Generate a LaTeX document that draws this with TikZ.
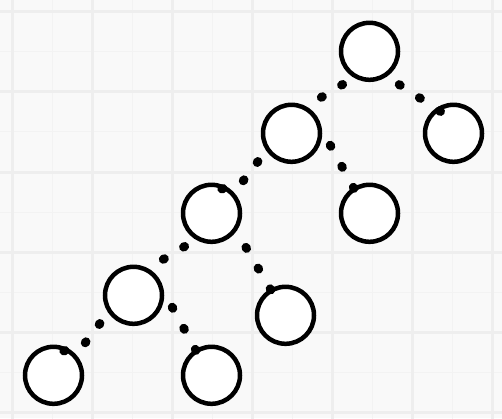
\documentclass[tikz,border=0pt]{standalone}
\usepackage{tikz}
\usetikzlibrary{calc}
\usetikzlibrary{positioning}
\definecolor{paper}{RGB}{249,249,249}
\definecolor{gridmaj}{RGB}{238,238,238}
\definecolor{gridmin}{RGB}{243,243,243}
\tikzstyle{circ} = [circle,draw=black,fill=white,line width=4.5pt,minimum size=57pt,inner sep=0pt,outer sep=1.5pt]
\tikzstyle{link} = [line width=9pt,line cap=round,dash pattern=on 1.2pt off 22.8pt]

\begin{document}
\begin{tikzpicture}[x=1pt,y=1pt,node distance=80pt,on grid]
	\useasboundingbox (0,0) rectangle (502,418);
	\fill[paper] (0,0) rectangle (502,418);
	\begin{scope}
		\clip (0,0) rectangle (502,418);
		\draw[gridmin,line width=1pt,xshift=52pt,yshift=46pt,step=80pt] (-80,-80) grid (480,400);
		\draw[gridmaj,line width=3pt,xshift=12pt,yshift=6pt,step=80pt] (-80,-80) grid (560,480);
	\end{scope}
	\node[circ](t_1) at (369.5,366.7){};
	\node[circ][below left=82pt and 78pt of t_1](t_2){};
	\node[circ][below right=82pt and 84pt of t_1](t_3){};
	\node[circ][below right=80pt and 78pt of t_2](t_4){};
	\node[circ][below left=80pt and 80pt of t_2](t_5){};
	\node[circ][below left=82pt and 78pt of t_5](t_6){};
	\node[circ][below right=102pt and 74pt of t_5](t_7){};
	\node[circ][below left=80pt and 80pt of t_6](t_8){};
	\node[circ][below right=80pt and 78pt of t_6](t_9){};
	\path[link]
	(t_1.240) edge[dash pattern=on 1.2pt off 22.45pt,dash phase=9.75pt] (t_2.62)
	(t_3.125) edge[shorten <=-5pt] (t_1.304)
	(t_4.122) edge[shorten <=-0.6pt] (t_2.9)
	(t_5.240) edge[dash pattern=on 1.2pt off 22.45pt,dash phase=9.75pt] (t_6.62)
	(t_7.120) edge[shorten <=-0.6pt] (t_5.325)
	(t_9.122) edge[shorten <=-0.6pt] (t_6.9);
	\draw[link,dash pattern=on 1.2pt off 21.8pt] ($(t_5)+(67:26.5)$) -- ++(21,7.6) -- (t_2.214);
	\draw[link,dash pattern=on 1.2pt off 21.8pt] ($(t_8)+(67:26.5)$) -- ++(21,7.6) -- (t_6.214);
\end{tikzpicture}
\end{document}
